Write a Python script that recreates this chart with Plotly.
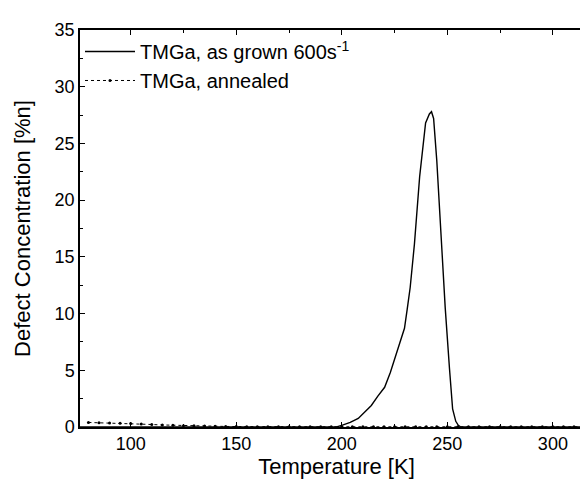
import plotly.graph_objects as go

# As grown curve (Temperature K, defect concentration %n)
grown_T = [76, 100, 150, 190, 197.5, 200, 204, 207.8, 211, 214, 217, 220.3, 223, 225.8, 228, 229.7, 231, 232.4, 234.4, 236.9, 239.7, 241.5, 242.5, 243.5, 245, 247, 249, 251, 252.5, 254, 255.2, 256.4, 260, 280, 300, 319]
grown_y = [0, 0, 0, 0, 0, 0.15, 0.4, 0.75, 1.3, 1.9, 2.7, 3.5, 4.8, 6.4, 7.6, 8.7, 10.4, 12.3, 16.1, 22.1, 26.8, 27.6, 27.8, 27.2, 23.5, 17.0, 10.5, 5.2, 1.6, 0.5, 0.15, 0, 0, 0, 0, 0]

# Annealed curve
ann_T = [80, 85, 90, 95, 100, 105, 110, 115, 120, 125, 130, 135, 140, 145, 150, 155, 160, 165, 170, 175, 180, 185, 190, 195, 200, 205, 210, 215, 220, 225, 230, 235, 240, 245, 250, 255, 260, 265, 270, 275, 280, 285, 290, 295, 300, 305, 310, 315, 320]
ann_y = [0.4, 0.38, 0.35, 0.32, 0.3, 0.26, 0.22, 0.18, 0.15, 0.12, 0.1, 0.08, 0.06, 0.05, 0.04, 0.03, 0.03, 0.02, 0.02, 0.02, 0.02, 0.02, 0.02, 0.02, 0.02, 0.02, 0.02, 0.02, 0.02, 0.02, 0.02, 0.02, 0.02, 0.02, 0.02, 0.02, 0.02, 0.02, 0.02, 0.02, 0.02, 0.02, 0.02, 0.02, 0.02, 0.02, 0.02, 0.02, 0.02]

x_ticks = [100, 150, 200, 250, 300]
y_ticks = [0, 5, 10, 15, 20, 25, 30, 35]

fig = go.Figure()
fig.add_trace(go.Scatter(x=grown_T, y=grown_y, mode="lines",
                         name="TMGa, as grown 600s<sup>-1</sup>",
                         line=dict(color="black", width=1.4)))
fig.add_trace(go.Scatter(x=ann_T, y=ann_y, mode="lines+markers",
                         name="TMGa, annealed",
                         line=dict(color="black", width=1, dash="dot"),
                         marker=dict(color="black", size=3)))

font = "Liberation Sans, Arial, sans-serif"
axis_common = dict(showline=True, linecolor="black", linewidth=1.5, mirror="ticks",
                   ticks="inside", ticklen=5, tickwidth=1, tickcolor="black",
                   showgrid=False, zeroline=False,
                   tickfont=dict(family=font, size=18, color="black"))
fig.update_xaxes(range=[76, 319], tickvals=x_ticks,
                 minor=dict(ticks="inside", ticklen=3, dtick=25, tick0=75, tickcolor="black"),
                 title=dict(text="Temperature [K]", font=dict(family=font, size=22, color="black"), standoff=4),
                 **axis_common)
fig.update_yaxes(range=[0, 35], tickvals=y_ticks,
                 minor=dict(ticks="inside", ticklen=3, dtick=2.5, tick0=0, tickcolor="black"),
                 title=dict(text="Defect Concentration [%n]", font=dict(family=font, size=22, color="black"), standoff=18),
                 **axis_common)
fig.update_layout(width=588, height=483,
                  margin=dict(l=72, r=1, t=22, b=64),
                  plot_bgcolor="white", paper_bgcolor="white",
                  font=dict(family=font, color="black"),
                  legend=dict(x=0.0, y=0.995, xanchor="left", yanchor="top",
                              bgcolor="rgba(0,0,0,0)", font=dict(family=font, size=20, color="black"),
                              tracegroupgap=0, itemwidth=50))
fig.write_html("out.html")
